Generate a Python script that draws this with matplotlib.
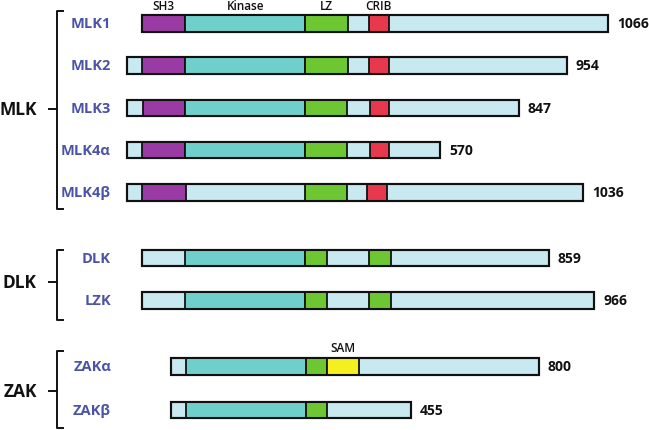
import matplotlib.pyplot as plt
from matplotlib.patches import Rectangle

# --- DATOS (unidades del esquema) ---
proteinas = ['MLK1', 'MLK2', 'MLK3', 'MLK4α', 'MLK4β', 'DLK', 'LZK', 'ZAKα', 'ZAKβ']
longitudes = [1066, 954, 847, 570, 1036, 859, 966, 800, 455]
fila_y = [24.5, 66.5, 109, 151, 193.5, 259, 301.5, 367.5, 411]
inicio = [142, 127, 127, 127, 127, 142, 142, 171, 171]
fin = [608, 567, 519, 440, 583, 549, 594, 539, 411]

dominios = [
    [(142, 185, 'SH3'), (185, 305, 'Kinase'), (305, 348, 'LZ'), (369, 389, 'CRIB')],
    [(142, 185, 'SH3'), (185, 305, 'Kinase'), (305, 348, 'LZ'), (369, 389, 'CRIB')],
    [(143, 185, 'SH3'), (185, 305, 'Kinase'), (305, 347, 'LZ'), (370, 389, 'CRIB')],
    [(142, 185, 'SH3'), (185, 305, 'Kinase'), (305, 347, 'LZ'), (370, 389, 'CRIB')],
    [(142, 186, 'SH3'), (305, 347, 'LZ'), (367, 387, 'CRIB')],
    [(185, 305, 'Kinase'), (305, 327, 'LZ'), (369, 391, 'LZ')],
    [(185, 305, 'Kinase'), (305, 327, 'LZ'), (369, 391, 'LZ')],
    [(186, 306, 'Kinase'), (306, 327, 'LZ'), (327, 359, 'SAM')],
    [(186, 306, 'Kinase'), (306, 327, 'LZ')],
]

etiquetas_dom = ['SH3', 'Kinase', 'LZ', 'CRIB', 'SAM']
etiq_x = [163, 246, 326, 378, 343]
etiq_y = [7, 7, 7, 7, 349]

grupos = ['MLK', 'DLK', 'ZAK']
grupo_arriba = [12, 251, 352]
grupo_abajo = [210, 321, 429]
grupo_medio = [110, 283, 392]

colores = {'SH3': '#9a3aa4', 'Kinase': '#6fd0cb', 'LZ': '#6cc733',
           'CRIB': '#e8384e', 'SAM': '#f4ef1f'}
COLOR_FONDO = '#c8e9ef'
AZUL = '#4a53a6'
ALTO = 16.5

plt.rcParams['font.family'] = ['Open Sans', 'DejaVu Sans']
fig = plt.figure(figsize=(6.49, 4.31), dpi=100)
ax = fig.add_axes([0, 0, 1, 1])
ax.set_xlim(0, 649)
ax.set_ylim(431, 0)
ax.axis('off')

for i, nombre in enumerate(proteinas):
    y = fila_y[i]
    ax.add_patch(Rectangle((inicio[i], y - ALTO / 2), fin[i] - inicio[i], ALTO,
                           facecolor=COLOR_FONDO, edgecolor='#111111', lw=1.5, zorder=2))
    for x0, x1, tipo in dominios[i]:
        ax.add_patch(Rectangle((x0, y - ALTO / 2), x1 - x0, ALTO,
                               facecolor=colores[tipo], edgecolor='#111111', lw=1.3, zorder=3))
    # contorno exterior encima
    ax.add_patch(Rectangle((inicio[i], y - ALTO / 2), fin[i] - inicio[i], ALTO,
                           facecolor='none', edgecolor='#111111', lw=1.5, zorder=4))
    ax.text(111, y, nombre, ha='right', va='center', color=AZUL,
            fontsize=10.5, fontweight='bold')
    ax.text(fin[i] + 9, y, str(longitudes[i]), ha='left', va='center',
            color='#111111', fontsize=10, fontweight='bold')

for t, x, y in zip(etiquetas_dom, etiq_x, etiq_y):
    ax.text(x, y, t, ha='center', va='center', fontsize=8.5, fontweight='semibold', color='#111111')

# llaves de grupo
for g, y0, y1, ym in zip(grupos, grupo_arriba, grupo_abajo, grupo_medio):
    ax.plot([63, 57, 57, 63], [y0, y0, y1, y1], color='#111111', lw=1.4,
            solid_joinstyle='round')
    ax.plot([49, 57], [ym, ym], color='#111111', lw=1.4)
    ax.text(37, ym, g, ha='right', va='center', fontsize=12.5, fontweight='bold', color='#111111')

fig.savefig('out.png', dpi=100)
